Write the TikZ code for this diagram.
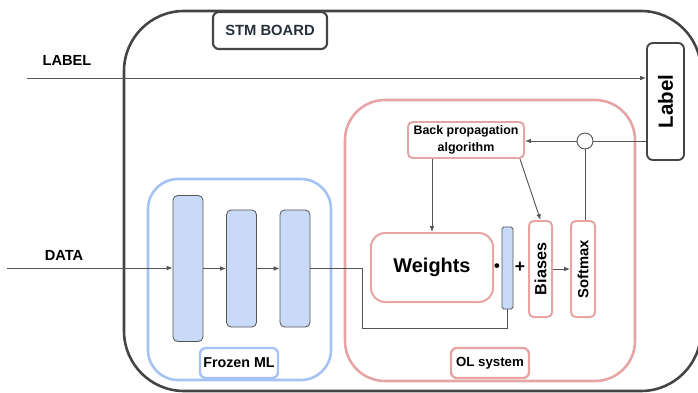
\documentclass[tikz,border=0pt]{standalone}
\usepackage{fontspec}
\setmainfont{Liberation Sans}
\usepackage{tikz}
\usetikzlibrary{arrows.meta}
\usetikzlibrary{calc}
\usetikzlibrary{positioning}

\definecolor{placa}{HTML}{444444}
\definecolor{rojo}{HTML}{E6A4A4}
\definecolor{azul}{HTML}{A4C2F4}
\definecolor{azulclaro}{HTML}{C9DAF8}
\definecolor{gris}{HTML}{555555}
\definecolor{titulo}{HTML}{26303D}

\newcommand{\letra}[1]{\bfseries\fontsize{#1}{#1}\selectfont}

\begin{document}
\begin{tikzpicture}[x=0.03cm, y=-0.03cm,
  linea/.style={draw=gris, line width=0.8pt},
  flecha/.style={linea, -{Latex[length=5pt,width=4pt]}},
  bloque/.style={draw=gris, fill=azulclaro, line width=0.7pt, rounded corners=4pt, minimum width=0.9cm, inner sep=0pt},
  cajaroja/.style={draw=rojo, line width=1.7pt, rounded corners=4pt, inner sep=0pt, align=center},
  pestana/.style={fill=white, rounded corners=5pt, inner sep=0pt, minimum height=0.9cm}]

% Placa
\useasboundingbox (0,0) rectangle (698,393);
\draw[draw=placa, line width=2.2pt, rounded corners=1.8cm] (124,11) rectangle (701,391);
\draw[draw=rojo, line width=2.2pt, rounded corners=1.2cm] (345,100) rectangle (635,381);
\draw[draw=azul, line width=2.2pt, rounded corners=0.9cm] (148,179) rectangle (331,380);

% Nodos
\node [pestana, draw=placa, line width=1.8pt, minimum width=3.42cm, minimum height=1.11cm, text=titulo, font=\letra{12.6}] at (270,30.5) (stm) {STM BOARD};
\node [font=\letra{12.5}] at (67,60) (tlabel) {LABEL};
\node [font=\letra{12.5}] at (64,255) (tdata) {DATA};
\coordinate (inlabel) at (27,78);
\coordinate (indata) at (7,268);

\node [draw=placa, line width=1.6pt, rounded corners=5pt, minimum width=1.11cm, minimum height=3.51cm, inner sep=0pt, font=\letra{17.5}] at (665.5,101.5) (lbl) {\rotatebox{90}{Label}};

\node [bloque, minimum height=4.38cm] at (188,268.5) (b1) {};
\node [bloque, minimum height=3.51cm] at (241.5,268.5) (b2) {};
\node [bloque, minimum height=3.51cm] at (295,268.5) (b3) {};
\node [pestana, draw=azul, line width=2pt, minimum width=2.34cm, font=\letra{12.2}] at (239,363) (fml) {Frozen ML};

\node [cajaroja, minimum width=3.48cm, minimum height=1.08cm, font=\bfseries\fontsize{10.6}{14}\selectfont] at (466,140) (bp) {Back propagation\\algorithm};
\node [cajaroja, rounded corners=12pt, minimum width=3.66cm, minimum height=2.07cm, font=\letra{17}] at (432,267.5) (we) {Weights};
\node [font=\letra{14}] at (497,268) (punto) {\textbullet};
\node [draw=gris, fill=azulclaro, line width=0.7pt, rounded corners=1.5pt, minimum width=0.33cm, minimum height=2.46cm, inner sep=0pt] at (507.5,268) (bar) {};
\node [font=\letra{15}] at (520,267) (mas) {+};
\node [cajaroja, minimum width=0.69cm, minimum height=2.88cm, font=\letra{13.8}] at (540.5,269) (bi) {\rotatebox{90}{Biases}};
\node [cajaroja, minimum width=0.72cm, minimum height=2.88cm, font=\letra{12.6}] at (583,269) (sm) {\rotatebox{90}{Softmax}};
\node [circle, draw=gris, line width=0.8pt, fill=white, minimum size=0.48cm, inner sep=0pt] at (585,141) (cmp) {};
\node [pestana, draw=rojo, line width=2pt, minimum width=2.34cm, font=\letra{11.3}] at (490,363) (ols) {OL system};
\coordinate (codo) at (362,328);

% Conexiones
\draw[flecha] (inlabel) -- (inlabel -| lbl.west);
\draw[flecha] (indata) -- (indata -| b1.west);
\draw[flecha] (b1.east) -- (b2.west);
\draw[flecha] (b2.east) -- (b3.west);
\draw[linea] (b3.east) -| (codo) -| (bar.south);

\draw[linea] (lbl.west |- cmp) -- (cmp.east);
\draw[flecha] (cmp.west) -- (bp.east |- cmp);
\draw[linea] (cmp.south) -- (cmp.south |- sm.north);
\draw[flecha] (bp.south -| we.north) -- (we.north);
\draw[flecha] ([xshift=-0.15cm]bp.south east) -- (bi.north);
\draw[flecha] (bi.east) -- (sm.west);

\end{tikzpicture}
\end{document}
